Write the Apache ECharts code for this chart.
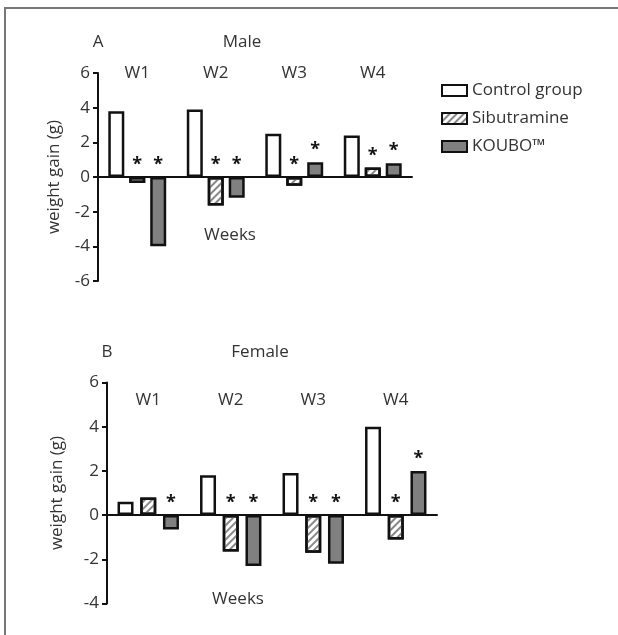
<!DOCTYPE html>
<html>
<head>
<meta charset="utf-8">
<script src="https://cdn.jsdelivr.net/npm/echarts@6/dist/echarts.min.js"></script>
<style>
  body { margin: 0; background: #fff; }
  #main { width: 618px; height: 635px; }
  .frame { position: absolute; left: 4px; top: 7px; right: 0; bottom: 0;
    border-top: 2px solid #777; border-left: 2px solid #777; pointer-events: none; }
</style>
</head>
<body>
<div id="main"></div>
<div class="frame"></div>
<script>
var weeks = ['W1', 'W2', 'W3', 'W4'];
var groups = ['Control group', 'Sibutramine', 'KOUBO™'];

// male weight gain (g)
var maleControl = [3.8, 3.9, 2.5, 2.4];
var maleSib = [-0.35, -1.65, -0.5, 0.55];
var maleKoubo = [-4.0, -1.2, 0.85, 0.8];
// female weight gain (g)
var femaleControl = [0.6, 1.8, 1.9, 4.0];
var femaleSib = [0.8, -1.65, -1.7, -1.1];
var femaleKoubo = [-0.65, -2.3, -2.2, 2.0];

// 1 = significant (*)
var maleSibStar = [1, 1, 1, 1];
var maleKouboStar = [1, 1, 1, 1];
var femaleSibStar = [0, 1, 1, 1];
var femaleKouboStar = [1, 1, 1, 1];
var noStar = [0, 0, 0, 0];

var font = 'Open Sans';
var textColor = '#333';

var chartDom = document.getElementById('main');
var myChart = echarts.init(chartDom);

var styles = [
  { color: '#fff', borderColor: '#111', borderWidth: 2.5 },
  { color: '#fff', borderColor: '#111', borderWidth: 2.5,
    decal: { symbol: 'rect', symbolSize: 1, dashArrayX: [1, 0], dashArrayY: [1.5, 2.5],
             rotation: -Math.PI / 4, color: '#888' } },
  { color: '#808080', borderColor: '#111', borderWidth: 2.5 }
];

function withStars(values, stars) {
  return values.map(function (v, i) {
    return { value: v, label: { show: stars[i] === 1 } };
  });
}

function makeSeries(name, idx, values, stars, axisIdx, gap) {
  return {
    name: name,
    type: 'bar',
    xAxisIndex: axisIdx * 2,
    yAxisIndex: axisIdx,
    barWidth: 16,
    barGap: gap,
    data: withStars(values, stars),
    itemStyle: styles[idx],
    label: {
      position: 'top',
      distance: 3,
      formatter: '*',
      fontSize: 18,
      fontWeight: 'bold',
      fontFamily: font,
      color: '#111'
    },
    emphasis: { disabled: true }
  };
}

function yAxis(gridIdx, min, gap) {
  return {
    type: 'value',
    gridIndex: gridIdx,
    min: min,
    max: 6,
    interval: 2,
    name: 'weight gain (g)',
    nameLocation: 'middle',
    nameGap: gap,
    nameTextStyle: { fontSize: 17, fontFamily: font, color: textColor },
    axisLine: { show: true, lineStyle: { color: '#111', width: 2 } },
    axisTick: { show: true, length: 5, lineStyle: { color: '#111', width: 2 } },
    axisLabel: { fontSize: 17, fontFamily: font, color: textColor, margin: 8 },
    splitLine: { show: false }
  };
}

function xAxes(gridIdx, labelMargin) {
  return [
    {
      type: 'category',
      gridIndex: gridIdx,
      data: weeks,
      axisLine: { onZero: true, lineStyle: { color: '#111', width: 2 } },
      axisTick: { show: false },
      axisLabel: { show: false }
    },
    {
      type: 'category',
      gridIndex: gridIdx,
      position: 'top',
      data: weeks,
      axisLine: { show: false, onZero: false },
      axisTick: { show: false },
      axisLabel: { fontSize: 17, fontFamily: font, color: textColor, margin: labelMargin }
    }
  ];
}

function txt(x, y, s) {
  return {
    type: 'text', x: x, y: y,
    style: { text: s, fontSize: 17, fontFamily: font, fill: textColor, align: 'center', verticalAlign: 'middle' }
  };
}

var option = {
  animation: false,
  grid: [
    { left: 98, top: 73, width: 314, height: 208 },
    { left: 107, top: 382.5, width: 330, height: 221 }
  ],
  legend: {
    data: groups,
    orient: 'vertical',
    left: 436,
    top: 77,
    icon: 'rect',
    itemWidth: 25,
    itemHeight: 11,
    itemGap: 11,
    selectedMode: false,
    textStyle: { fontSize: 17, fontFamily: font, color: textColor }
  },
  xAxis: xAxes(0, -9).concat(xAxes(1, -26)),
  yAxis: [yAxis(0, -6, 35), yAxis(1, -4, 41)],
  series: [
    makeSeries(groups[0], 0, maleControl, noStar, 0, '31%'),
    makeSeries(groups[1], 1, maleSib, maleSibStar, 0, '31%'),
    makeSeries(groups[2], 2, maleKoubo, maleKouboStar, 0, '31%'),
    makeSeries(groups[0], 0, femaleControl, noStar, 1, '42%'),
    makeSeries(groups[1], 1, femaleSib, femaleSibStar, 1, '42%'),
    makeSeries(groups[2], 2, femaleKoubo, femaleKouboStar, 1, '42%')
  ],
  graphic: [
    txt(98, 42, 'A'),
    txt(242, 42, 'Male'),
    txt(230, 235, 'Weeks'),
    txt(107, 352, 'B'),
    txt(260, 352, 'Female'),
    txt(238, 599, 'Weeks')
  ]
};

myChart.setOption(option);
</script>
</body>
</html>
